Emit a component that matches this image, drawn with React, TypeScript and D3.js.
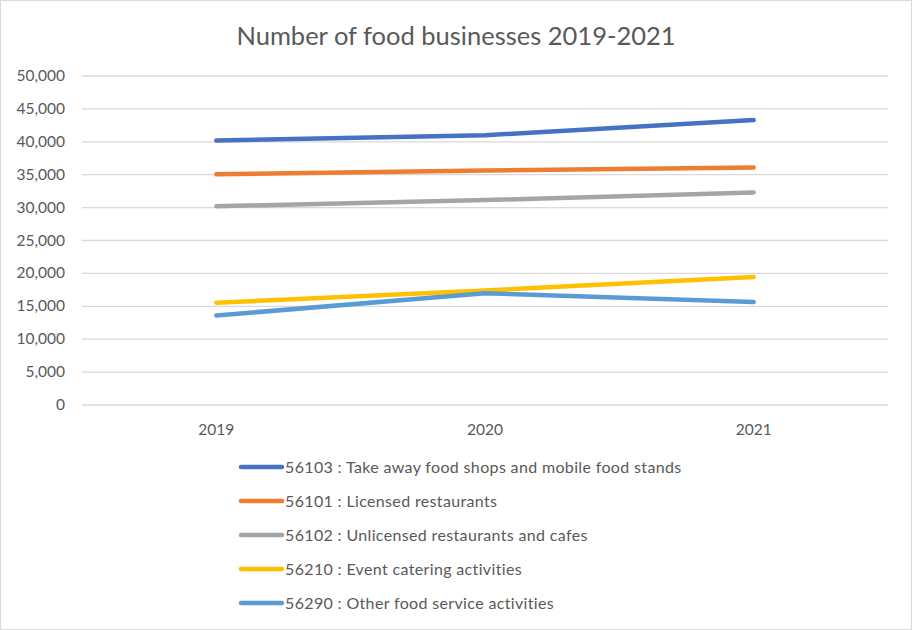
import React from "react";
import * as d3 from "d3";

const years = ["2019", "2020", "2021"];
const seriesNames = [
  "56103 : Take away food shops and mobile food stands",
  "56101 : Licensed restaurants",
  "56102 : Unlicensed restaurants and cafes",
  "56210 : Event catering activities",
  "56290 : Other food service activities",
];
const takeAway = [40200, 41000, 43300];
const licensed = [35050, 35650, 36100];
const unlicensed = [30200, 31150, 32300];
const eventCatering = [15550, 17400, 19450];
const otherFood = [13600, 17000, 15650];
const seriesValues = [takeAway, licensed, unlicensed, eventCatering, otherFood];
const colors = ["#4472C4", "#ED7D31", "#A5A5A5", "#FFC000", "#5B9BD5"];
const yTicks = [0, 5000, 10000, 15000, 20000, 25000, 30000, 35000, 40000, 45000, 50000];

const W = 912;
const H = 630;
const FONT = "Lato, 'Open Sans', sans-serif";

export default function App() {
  const x = d3.scaleBand<string>().domain(years).range([82, 888]);
  const y = d3.scaleLinear().domain([0, 50000]).range([405, 76]);
  const fmt = d3.format(",");
  const line = d3
    .line<number>()
    .x((_, i) => (x(years[i]) as number) + x.bandwidth() / 2)
    .y((v) => y(v))
    .curve(d3.curveLinear);

  return (
    <div style={{ position: "absolute", left: 0, top: 0 }}>
      <svg width={W} height={H} style={{ display: "block", fontFamily: FONT }}>
        <rect x={0.5} y={0.5} width={W - 1} height={H - 1} fill="#fff" stroke="#d9d9d9" />
        <text x={456} y={45} textAnchor="middle" fontSize={25.5} fill="#595959">
          Number of food businesses 2019-2021
        </text>
        {yTicks.map((t) => (
          <g key={t}>
            <line x1={82} x2={888} y1={y(t)} y2={y(t)} stroke="#d9d9d9" strokeWidth={1.3} />
            <text x={65} y={y(t) + 5} textAnchor="end" fontSize={15.5} fill="#595959">
              {fmt(t)}
            </text>
          </g>
        ))}
        {years.map((yr) => (
          <text
            key={yr}
            x={(x(yr) as number) + x.bandwidth() / 2}
            y={435}
            textAnchor="middle"
            fontSize={15.5}
            fill="#595959"
          >
            {yr}
          </text>
        ))}
        {seriesValues.map((vals, i) => (
          <path
            key={i}
            d={line(vals) || ""}
            fill="none"
            stroke={colors[i]}
            strokeWidth={4.5}
            strokeLinecap="round"
            strokeLinejoin="round"
          />
        ))}
        {seriesNames.map((name, i) => {
          const ly = 467 + i * 34;
          return (
            <g key={name}>
              <line x1={241} x2={282} y1={ly} y2={ly} stroke={colors[i]} strokeWidth={4.5} strokeLinecap="round" />
              <text x={285} y={ly + 5.5} fontSize={16} letterSpacing={0.35} fill="#595959">
                {name}
              </text>
            </g>
          );
        })}
      </svg>
    </div>
  );
}
